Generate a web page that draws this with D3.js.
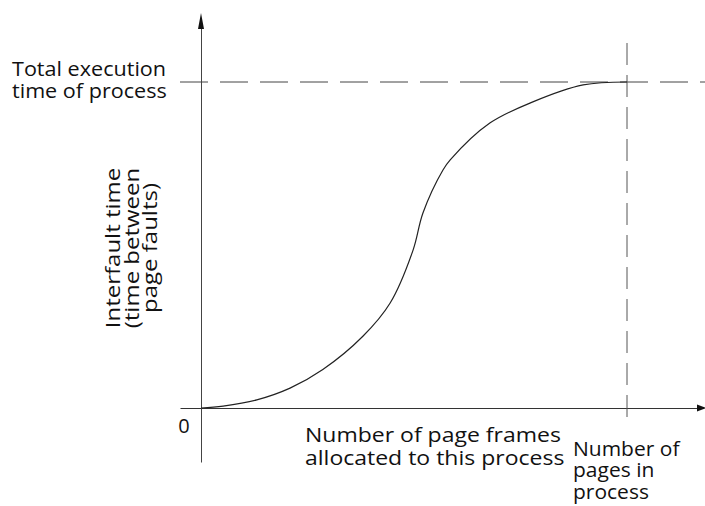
<!DOCTYPE html>
<html>
<head>
<meta charset="utf-8">
<script src="https://cdn.jsdelivr.net/npm/d3@7"></script>
<style>
  body { margin: 0; background: #fff; }
  svg text { font-family: "Open Sans", "Noto Sans", sans-serif; fill: #111; }
</style>
</head>
<body>
<div id="chart"></div>
<script>
// DATA (x = % of process pages allocated, y = % of total execution time)
var pageFrames = [0, 5.2, 13.1, 20.9, 28.6, 38, 44.4, 49.8, 52.1, 56.8, 58.5, 67.8, 77.9, 89.7, 100];
var interfault = [0, 0.6, 2.5, 6.1, 11.8, 22, 32.2, 48.5, 59.8, 73, 76.1, 87.4, 93.9, 99.1, 100];
var yLabelLines = ["Interfault time", "(time between", "page faults)"];
var xLabelLines = ["Number of page frames", "allocated to this process"];
var pagesLabelLines = ["Number of", "pages in", "process"];
var topLabelLines = ["Total execution", "time of process"];

var W = 705, H = 506;
var svg = d3.select("#chart").append("svg")
  .attr("width", W)
  .attr("height", H);

//SCALES
var x = d3.scaleLinear().domain([0, 100]).range([201, 627]);
var y = d3.scaleLinear().domain([0, 100]).range([408, 82]);

//AXES (no ticks, just the lines, stretched past the data range)
var xAxisScale = x.copy().domain([x.invert(180), x.invert(700)]).range([180, 700]);
var yAxisScale = y.copy().domain([y.invert(462), y.invert(24)]).range([462, 24]);

svg.append("g")
  .attr("transform", "translate(0," + y(0) + ")")
  .call(d3.axisBottom(xAxisScale).tickValues([]).tickSizeOuter(0))
  .select(".domain").attr("stroke", "#333").attr("stroke-width", 1.1);

svg.append("g")
  .attr("transform", "translate(" + x(0) + ",0)")
  .call(d3.axisLeft(yAxisScale).tickValues([]).tickSizeOuter(0))
  .select(".domain").attr("stroke", "#444").attr("stroke-width", 1);

//ARROW HEADS
svg.append("path")
  .attr("d", "M" + x(0) + ",13 L" + (x(0) - 3) + ",29 L" + (x(0) + 3) + ",29 Z")
  .attr("fill", "#111");
svg.append("path")
  .attr("d", "M706," + y(0) + " L697," + (y(0) - 3.5) + " L697," + (y(0) + 3.5) + " Z")
  .attr("fill", "#111");

//DASHED REFERENCE LINES
svg.append("line")
  .attr("x1", 180).attr("x2", 705)
  .attr("y1", y(100)).attr("y2", y(100))
  .attr("stroke", "#444").attr("stroke-width", 1)
  .attr("stroke-dasharray", "28,12");
svg.append("line")
  .attr("x1", x(100)).attr("x2", x(100))
  .attr("y1", 43).attr("y2", 425)
  .attr("stroke", "#555").attr("stroke-width", 1)
  .attr("stroke-dasharray", "22,10");

//CURVE
var pts = pageFrames.map(function(d, i) { return [d, interfault[i]]; });
var line = d3.line()
  .x(function(d) { return x(d[0]); })
  .y(function(d) { return y(d[1]); })
  .curve(d3.curveCatmullRom.alpha(0.5));
svg.append("path")
  .datum(pts)
  .attr("d", line)
  .attr("fill", "none")
  .attr("stroke", "#222")
  .attr("stroke-width", 1.2);

//TEXT (the book's face is wide, so glyphs get stretched along the line)
function block(lines, transform, dy, sx) {
  var t = svg.append("text")
    .attr("transform", transform + " scale(" + sx + ",1)")
    .attr("font-size", 20);
  lines.forEach(function(s, i) {
    t.append("tspan").attr("x", 0).attr("y", i * dy).text(s);
  });
  return t;
}

block(topLabelLines, "translate(12,76)", 22, 1.08);
block(xLabelLines, "translate(305,442)", 23, 1.15);
block(pagesLabelLines, "translate(573,456)", 21.5, 1.05);

svg.append("text")
  .attr("x", 184).attr("y", 433)
  .attr("font-size", 20)
  .attr("text-anchor", "middle")
  .text("0");

//ROTATED Y LABEL
block(yLabelLines, "translate(120,248) rotate(-90)", 18.5, 1.2)
  .attr("text-anchor", "middle");
</script>
</body>
</html>
